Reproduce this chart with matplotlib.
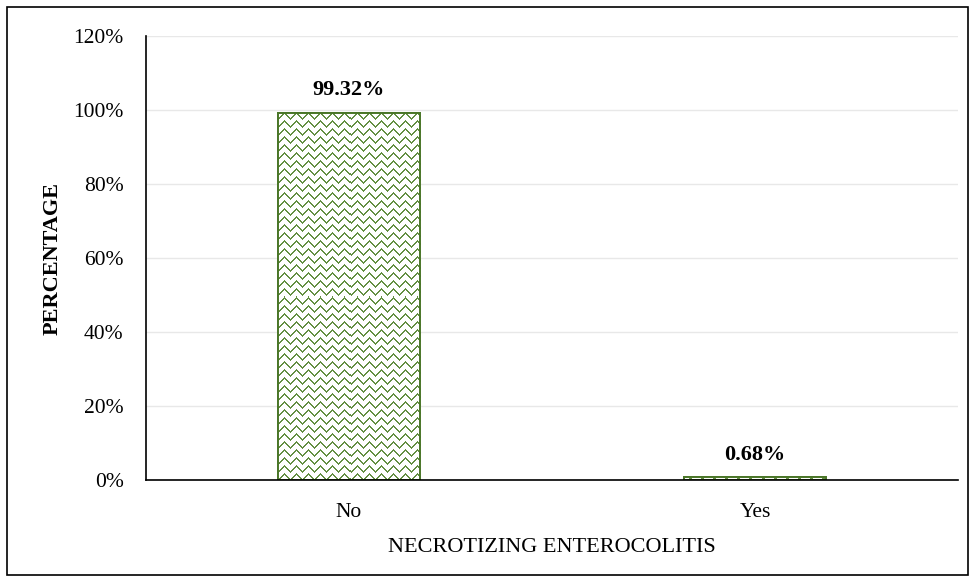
import numpy as np
import matplotlib.pyplot as plt
from matplotlib.patches import Rectangle
from matplotlib.ticker import FuncFormatter
from matplotlib.colors import to_rgb

categories = ['No', 'Yes']
percentages = [99.32, 0.68]
value_labels = ['99.32%', '0.68%']
y_ticks = [0, 20, 40, 60, 80, 100, 120]

plt.rcParams['font.family'] = ['Liberation Serif', 'DejaVu Serif']

green = '#4a7628'
zig_green = '#648f43'


def zigzag_fill(w, h):
    # zigzag texture, 12 px wide repeat, 8 px tall repeat
    img = np.ones((h, w, 3))
    c = np.array(to_rgb(zig_green))
    for x in range(w):
        z = abs((x % 12) - 6)
        for y0 in range(-16, h + 16, 8):
            for dy in (0, 1):
                y = y0 + z + dy
                if 0 <= y < h:
                    img[y, x] = c
    return img


fig = plt.figure(figsize=(9.75, 5.82), dpi=100)
ax = fig.add_axes([0.1497, 0.1753, 0.8329, 0.7628])

# frame round the whole chart area
fig.patches.append(Rectangle((0.0072, 0.012), 0.9856, 0.976, transform=fig.transFigure,
                             fill=False, edgecolor='black', linewidth=1.2))

ax.set_ylim(0, 120)
ax.set_xlim(-0.5, 1.5)

bars = ax.bar(categories, percentages, width=0.35, color='white',
              edgecolor=green, linewidth=1.3, zorder=3)

for b in bars:
    x0, y0 = b.get_x(), b.get_y()
    x1, y1 = x0 + b.get_width(), y0 + b.get_height()
    (px0, py0), (px1, py1) = ax.transData.transform([(x0, y0), (x1, y1)])
    w = max(int(round(px1 - px0)), 1)
    h = max(int(round(py1 - py0)), 1)
    im = ax.imshow(zigzag_fill(w, h), extent=(x0, x1, y0, y1), origin='upper',
                   interpolation='nearest', aspect='auto', zorder=3.5)
    im.set_clip_path(b)
    # outline on top of the texture
    ax.add_patch(Rectangle((x0, y0), b.get_width(), b.get_height(), fill=False,
                           edgecolor=green, linewidth=1.4, zorder=4))

for b, lab in zip(bars, value_labels):
    ax.annotate(lab, (b.get_x() + b.get_width() / 2, b.get_height()),
                xytext=(0, 9), textcoords='offset points',
                ha='center', va='bottom', fontsize=16, fontweight='bold')

ax.set_aspect('auto')
ax.set_xlim(-0.5, 1.5)
ax.set_ylim(0, 120)
ax.set_yticks(y_ticks)
ax.yaxis.set_major_formatter(FuncFormatter(lambda v, p: f'{v:.0f}%'))
ax.grid(axis='y', color='#e8e8e8', linewidth=1, zorder=0)
ax.tick_params(axis='both', length=0, labelsize=15.5)
ax.tick_params(axis='y', pad=16)
ax.tick_params(axis='x', pad=16.5)

for s in ['top', 'right']:
    ax.spines[s].set_visible(False)
ax.spines['left'].set_linewidth(1.2)
ax.spines['bottom'].set_linewidth(1.2)
ax.spines['bottom'].set_zorder(5)

ax.set_ylabel('PERCENTAGE', fontsize=16, fontweight='bold', labelpad=8)
ax.set_xlabel('NECROTIZING ENTEROCOLITIS', fontsize=16, labelpad=11.5)

plt.savefig('out.png', dpi=100)
